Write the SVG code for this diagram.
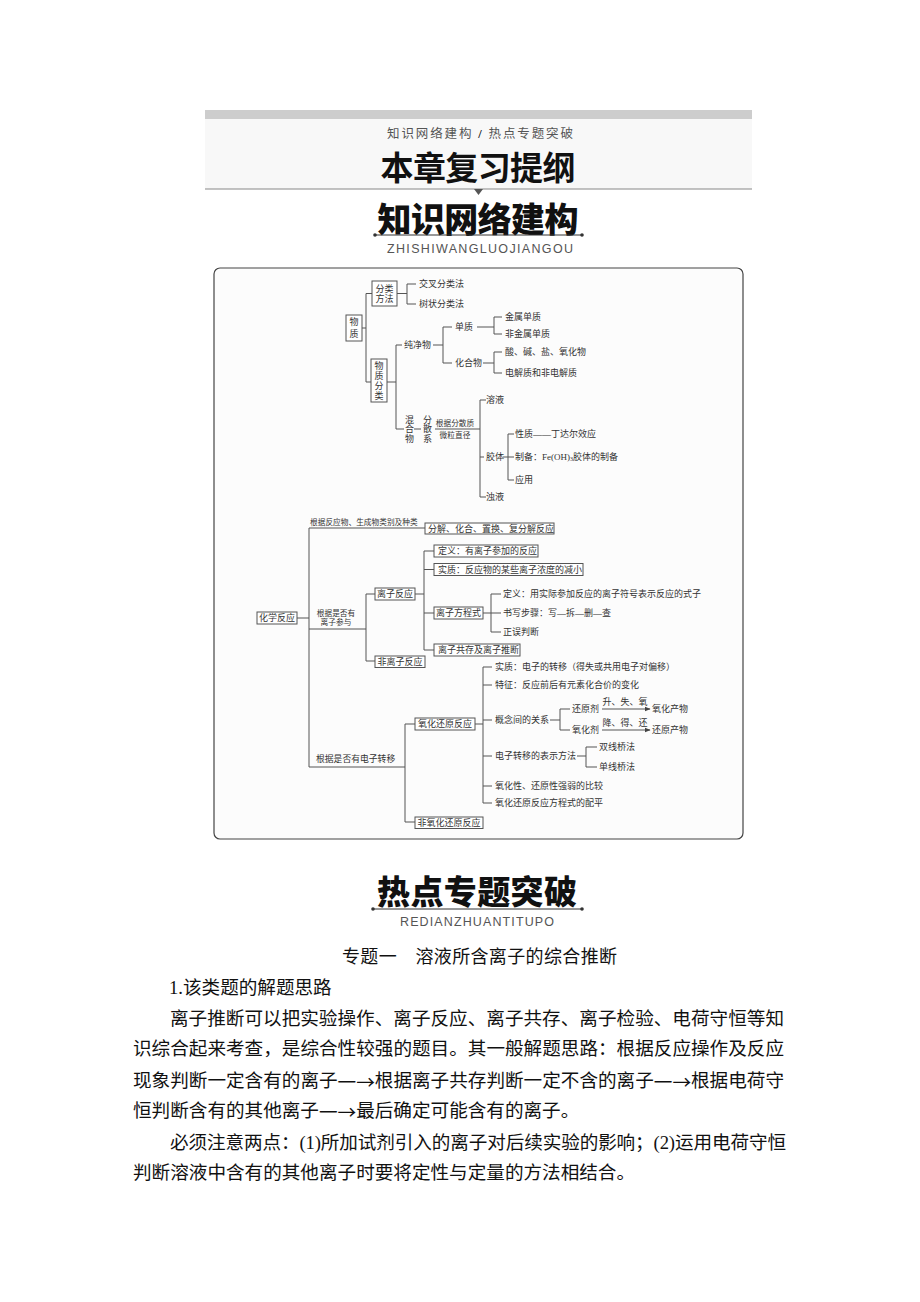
<svg xmlns="http://www.w3.org/2000/svg" width="920" height="1302" viewBox="0 0 920 1302">
<defs>
<style>
.t{font-family:"Liberation Serif","Noto Sans CJK SC",serif;font-size:9px;fill:#333;dominant-baseline:central}
.s{font-size:7.7px}
.c{text-anchor:middle}
.ln{stroke:#555;stroke-width:1;fill:none}
.bx{fill:#fff;stroke:#555;stroke-width:1}
.body{font-family:"Liberation Serif","Noto Sans CJK SC",serif;font-size:18.6px;fill:#111;dominant-baseline:central}
.ar{font-family:"Noto Sans CJK SC",sans-serif}
.big{font-family:"Noto Sans CJK SC",sans-serif;font-weight:900;fill:#111;dominant-baseline:central;text-anchor:middle}
.latin{font-family:"Liberation Sans",Arial,sans-serif;font-size:12.5px;fill:#555;dominant-baseline:central}
</style>
<marker id="ah" viewBox="0 0 10 10" refX="9" refY="5" markerWidth="6" markerHeight="6" orient="auto" markerUnits="userSpaceOnUse"><path d="M0,1 L10,5 L0,9 z" fill="#444"/></marker>
</defs>
<rect width="920" height="1302" fill="#fff"/>

<g id="header">
<rect x="205" y="110" width="547" height="9" fill="#cdcdcd"/>
<rect x="205" y="119" width="547" height="70" fill="#f8f8f8"/>
<text x="387" y="134" textLength="186" class="t" style="font-size:12.5px;fill:#555">知识网络建构 <tspan style="fill:#111;font-weight:bold">/</tspan> 热点专题突破</text>
<text x="478" y="166" class="big" style="font-size:33px;font-weight:700" textLength="195">本章复习提纲</text>
<line x1="205" y1="189" x2="752" y2="189" stroke="#888" stroke-width="1"/>
<path d="M474,189 L483,189 L478.5,195 z" fill="#555"/>
</g>

<g id="title1">
<text x="478" y="217" class="big" style="font-size:34px" textLength="201">知识网络建构</text>
<line x1="375" y1="235" x2="582" y2="235" stroke="#333" stroke-width="1"/>
<circle cx="375" cy="235" r="1.8" fill="#333"/>
<circle cx="582" cy="235" r="1.8" fill="#333"/>
<text x="387" y="249" class="latin" textLength="186">ZHISHIWANGLUOJIANGOU</text>
</g>

<rect id="frame" x="214" y="268" width="529" height="571" rx="6" fill="#fcfcfc" stroke="#444" stroke-width="1.2"/>

<g id="connectors" class="ln">
<path d="M362,328H366M366,293.5V382M366,293.5H372M366,382H371"/>
<path d="M397,293.5H407M407,284V304M407,284H416M407,304H416"/>
<path d="M387,382H396M396,345V429M396,345H402M396,429H404"/>
<path d="M433,345H443M443,327V363M443,327H452M443,363H452"/>
<path d="M477,327H494M494,317V334M494,317H502M494,334H502"/>
<path d="M483,363H494M494,352V373M494,352H502M494,373H502"/>
<path d="M414,429H421"/>
<path d="M435,429H480M480,400V497M480,400H486M480,457H484M480,497H486"/>
<path d="M503,457H508M508,434V480M508,434H514M508,457H514M508,480H514"/>
<path d="M297,618H309M309,528V767M309,528H425M309,629H366M309,767H405"/>
<path d="M366,594V661M366,594H375M366,661H375"/>
<path d="M415,594H424M424,551V650M424,551H434M424,569.5H434M424,613H434M424,650H434"/>
<path d="M483,613H491M491,594V632M491,594H501M491,613H501M491,632H501"/>
<path d="M405,724V822M405,724H415M405,822H415"/>
<path d="M475,724H483M483,667V803M483,667H492M483,685H492M483,720H492M483,756H492M483,786H492M483,803H492"/>
<path d="M550,720H560M560,709V730M560,709H570M560,730H570"/>
<path d="M602,709H650" marker-end="url(#ah)"/>
<path d="M602,730H650" marker-end="url(#ah)"/>
<path d="M577,756H586M586,747V767M586,747H597M586,767H597"/>
</g>

<g id="n-wuzhi"><rect class="bx" x="346" y="315" width="16" height="26"/><text class="t c" x="354" y="322">物</text><text class="t c" x="354" y="334">质</text></g>
<g id="n-fenleifangfa"><rect class="bx" x="372" y="281" width="25" height="25"/><text class="t c" x="384.5" y="288.5">分类</text><text class="t c" x="384.5" y="299">方法</text></g>
<g id="n-jiaocha"><text class="t" x="419" y="284">交叉分类法</text></g>
<g id="n-shuzhuang"><text class="t" x="419" y="304">树状分类法</text></g>
<g id="n-wuzhifenlei"><rect class="bx" x="371" y="359" width="16" height="43"/><text class="t c" x="379" y="365.5">物</text><text class="t c" x="379" y="375.5">质</text><text class="t c" x="379" y="385.5">分</text><text class="t c" x="379" y="395.5">类</text></g>
<g id="n-chunjingwu"><text class="t" x="404" y="345">纯净物</text></g>
<g id="n-danzhi"><text class="t" x="455" y="327">单质</text></g>
<g id="n-huahewu"><text class="t" x="455" y="363">化合物</text></g>
<g id="n-jinshu"><text class="t" x="505" y="317">金属单质</text></g>
<g id="n-feijinshu"><text class="t" x="505" y="334">非金属单质</text></g>
<g id="n-suan"><text class="t" x="505" y="352">酸、碱、盐、氧化物</text></g>
<g id="n-dianjiezhi"><text class="t" x="505" y="373">电解质和非电解质</text></g>
<g id="n-hunhewu"><text class="t c" x="409.5" y="419.5">混</text><text class="t c" x="409.5" y="429">合</text><text class="t c" x="409.5" y="438.5">物</text></g>
<g id="n-fensanxi"><text class="t c" x="427.5" y="419.5">分</text><text class="t c" x="427.5" y="429">散</text><text class="t c" x="427.5" y="438.5">系</text></g>
<g id="l-fensan"><text class="t s c" x="455" y="423">根据分散质</text><text class="t s c" x="455" y="435">微粒直径</text></g>
<g id="n-rongye"><text class="t" x="486" y="400">溶液</text></g>
<g id="n-jiaoti"><text class="t" x="486" y="457">胶体</text></g>
<g id="n-zhuoye"><text class="t" x="486" y="497">浊液</text></g>
<g id="n-xingzhi"><text class="t" x="515" y="434">性质——丁达尔效应</text></g>
<g id="n-zhibei"><text class="t" x="515" y="457">制备：Fe(OH)<tspan font-size="6" dy="2">3</tspan><tspan dy="-2">胶体的制备</tspan></text></g>
<g id="n-yingyong"><text class="t" x="515" y="480">应用</text></g>

<g id="n-huaxuefanying"><rect class="bx" x="257" y="612" width="40" height="12"/><text class="t c" x="277" y="618">化学反应</text></g>
<g id="l-fenlei"><text class="t s" x="310" y="522">根据反应物、生成物类别及种类</text></g>
<g id="n-fenjie"><rect class="bx" x="425" y="523" width="129" height="11"/><text class="t" x="428" y="528.5">分解、化合、置换、复分解反应</text></g>
<g id="l-lizi"><text class="t s c" x="336" y="613">根据是否有</text><text class="t s c" x="336" y="622">离子参与</text></g>
<g id="n-lizifanying"><rect class="bx" x="375" y="588" width="40" height="12"/><text class="t c" x="395" y="594">离子反应</text></g>
<g id="n-feilizi"><rect class="bx" x="375" y="656" width="50" height="11.5"/><text class="t c" x="400" y="661.8">非离子反应</text></g>
<g id="n-dingyi1"><rect class="bx" x="434" y="545" width="104" height="12"/><text class="t" x="438" y="551">定义：有离子参加的反应</text></g>
<g id="n-shizhi1"><rect class="bx" x="434" y="563.5" width="149" height="12"/><text class="t" x="438" y="569.5">实质：反应物的某些离子浓度的减小</text></g>
<g id="n-fangchengshi"><rect class="bx" x="434" y="607" width="49" height="12"/><text class="t c" x="458.5" y="613">离子方程式</text></g>
<g id="n-gongcun"><rect class="bx" x="434" y="644" width="86" height="12"/><text class="t" x="438" y="650">离子共存及离子推断</text></g>
<g id="n-dingyi2"><text class="t" x="503" y="594">定义：用实际参加反应的离子符号表示反应的式子</text></g>
<g id="n-shuxie"><text class="t" x="503" y="613">书写步骤：写—拆—删—查</text></g>
<g id="n-zhengwu"><text class="t" x="503" y="632">正误判断</text></g>

<g id="l-dianzi"><text class="t" x="316" y="759" style="font-size:8.8px">根据是否有电子转移</text></g>
<g id="n-yanghuahuanyuan"><rect class="bx" x="415" y="718" width="60" height="12"/><text class="t c" x="445" y="724">氧化还原反应</text></g>
<g id="n-feiyanghua"><rect class="bx" x="415" y="817" width="68" height="11.5"/><text class="t c" x="449" y="822.8">非氧化还原反应</text></g>
<g id="n-shizhi2"><text class="t" x="495" y="667">实质：电子的转移（得失或共用电子对偏移）</text></g>
<g id="n-tezheng"><text class="t" x="495" y="685">特征：反应前后有元素化合价的变化</text></g>
<g id="n-gainian"><text class="t" x="495" y="720">概念间的关系</text></g>
<g id="n-biaoshi"><text class="t" x="495" y="756">电子转移的表示方法</text></g>
<g id="n-bijiao"><text class="t" x="495" y="786">氧化性、还原性强弱的比较</text></g>
<g id="n-peiping"><text class="t" x="495" y="803">氧化还原反应方程式的配平</text></g>
<g id="n-huanyuanji"><text class="t" x="572" y="709">还原剂</text></g>
<g id="n-yanghuaji"><text class="t" x="572" y="730">氧化剂</text></g>
<g id="l-sheng"><text class="t c" x="625" y="702">升、失、氧</text></g>
<g id="l-jiang"><text class="t c" x="625" y="723">降、得、还</text></g>
<g id="n-yanghuachanwu"><text class="t" x="652" y="709">氧化产物</text></g>
<g id="n-huanyuanchanwu"><text class="t" x="652" y="730">还原产物</text></g>
<g id="n-shuangxian"><text class="t" x="599" y="747">双线桥法</text></g>
<g id="n-danxian"><text class="t" x="599" y="767">单线桥法</text></g>

<g id="title2">
<text x="477" y="890" class="big" style="font-size:33px" textLength="200">热点专题突破</text>
<line x1="373" y1="909" x2="582" y2="909" stroke="#333" stroke-width="1"/>
<circle cx="373" cy="909" r="1.8" fill="#333"/>
<circle cx="582" cy="909" r="1.8" fill="#333"/>
<text x="400" y="922" class="latin" textLength="154">REDIANZHUANTITUPO</text>
</g>

<g id="body">
<text x="342" y="955" textLength="275" style="font-family:'Noto Sans CJK SC',sans-serif;font-size:18px;fill:#111;dominant-baseline:central">专题一　溶液所含离子的综合推断</text>
<text x="169" y="987" class="body">1.该类题的解题思路</text>
<text x="170" y="1018" class="body" textLength="614">离子推断可以把实验操作、离子反应、离子共存、离子检验、电荷守恒等知</text>
<text x="133" y="1048" class="body" textLength="651">识综合起来考查，是综合性较强的题目。其一般解题思路：根据反应操作及反应</text>
<text x="133" y="1080" class="body" textLength="651">现象判断一定含有的离子<tspan class="ar">一→</tspan>根据离子共存判断一定不含的离子<tspan class="ar">一→</tspan>根据电荷守</text>
<text x="133" y="1110" class="body">恒判断含有的其他离子<tspan class="ar">一→</tspan>最后确定可能含有的离子。</text>
<text x="170" y="1142" class="body" textLength="616">必须注意两点：(1)所加试剂引入的离子对后续实验的影响；(2)运用电荷守恒</text>
<text x="133" y="1172" class="body">判断溶液中含有的其他离子时要将定性与定量的方法相结合。</text>
</g>
</svg>
